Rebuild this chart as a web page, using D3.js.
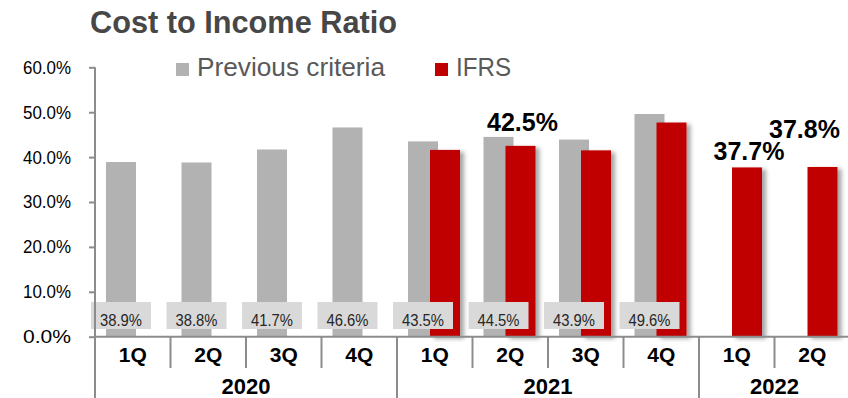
<!DOCTYPE html>
<html>
<head>
<meta charset="utf-8">
<script src="https://cdn.jsdelivr.net/npm/d3@7/dist/d3.min.js"></script>
<style>
  html, body { margin: 0; padding: 0; background: #fff; }
  svg { display: block; font-family: Arial, "Liberation Sans", sans-serif; }
</style>
</head>
<body>
<svg id="chart" width="848" height="398"></svg>
<script>
// Quarterly cost-to-income ratio, previous criteria vs IFRS
const quarters = ["1Q", "2Q", "3Q", "4Q", "1Q", "2Q", "3Q", "4Q", "1Q", "2Q"];
const years = [
  { label: "2020", from: 0, to: 4 },
  { label: "2021", from: 4, to: 8 },
  { label: "2022", from: 8, to: 10 }
];
const previousValues = [38.9, 38.8, 41.7, 46.6, 43.5, 44.5, 43.9, 49.6, null, null];
const ifrsValues = [null, null, null, null, 41.6, 42.5, 41.5, 47.7, 37.7, 37.8];
// IFRS values called out with large labels (index, dx, dy from bar top)
const highlighted = [
  { i: 5, dx: 2, dy: -15 },
  { i: 8, dx: 2, dy: -7 },
  { i: 9, dx: -18, dy: -29 }
];
const yTicks = [0, 10, 20, 30, 40, 50, 60];

const GREY = "#b2b2b2", RED = "#c00000", AXIS = "#8c8c8c";
const svg = d3.select("#chart");

const defs = svg.append("defs");
const shadow = defs.append("filter").attr("id", "shadow")
  .attr("x", "-20%").attr("y", "-10%").attr("width", "160%").attr("height", "130%");
shadow.append("feDropShadow").attr("dx", 4).attr("dy", 2)
  .attr("stdDeviation", 2.2).attr("flood-color", "#000").attr("flood-opacity", 0.35);

const x = d3.scaleBand().domain(d3.range(quarters.length)).range([95, 850]).padding(0);
const y = d3.scaleLinear().domain([0, 60]).range([336.7, 67.3]);
const barW = 30, greyOff = 11, redOff = 33;

// Title
svg.append("text").attr("x", 90).attr("y", 33)
  .attr("font-size", 30.5).attr("font-weight", "bold").attr("fill", "#474747")
  .attr("textLength", 307).attr("lengthAdjust", "spacingAndGlyphs")
  .text("Cost to Income Ratio");

// Legend
const legend = [
  { label: "Previous criteria", color: GREY, x: 176, len: 188 },
  { label: "IFRS", color: RED, x: 435, len: 55 }
];
const lg = svg.append("g").selectAll("g").data(legend).join("g");
lg.append("rect").attr("x", d => d.x).attr("y", 63).attr("width", 13).attr("height", 13)
  .attr("fill", d => d.color);
lg.append("text").attr("x", d => d.x + 21).attr("y", 76)
  .attr("font-size", 25).attr("fill", "#595959")
  .attr("textLength", d => d.len).attr("lengthAdjust", "spacingAndGlyphs")
  .text(d => d.label);

// Y axis
const yAxis = d3.axisLeft(y).tickValues(yTicks).tickSize(6).tickPadding(18)
  .tickFormat(d => d.toFixed(1) + "%");
const ya = svg.append("g").attr("transform", "translate(95,0)").call(yAxis);
ya.select(".domain").remove();
ya.selectAll(".tick line").attr("stroke", AXIS).attr("stroke-width", 2);
ya.selectAll(".tick text").attr("font-size", 18.5).attr("fill", "#000")
  .attr("font-family", "Arial, 'Liberation Sans', sans-serif")
  .attr("textLength", 48).attr("lengthAdjust", "spacingAndGlyphs");

// Previous-criteria bars
svg.append("g").selectAll("rect")
  .data(previousValues.map((v, i) => ({ v, i })).filter(d => d.v != null))
  .join("rect")
  .attr("x", d => x(d.i) + greyOff).attr("width", barW)
  .attr("y", d => y(d.v)).attr("height", d => y(0) - y(d.v))
  .attr("fill", GREY);

// IFRS bars
svg.append("g").selectAll("rect")
  .data(ifrsValues.map((v, i) => ({ v, i })).filter(d => d.v != null))
  .join("rect")
  .attr("x", d => x(d.i) + redOff).attr("width", barW)
  .attr("y", d => y(d.v)).attr("height", d => y(0) - y(d.v))
  .attr("fill", RED).attr("filter", "url(#shadow)");

// Value boxes for previous criteria
const boxes = svg.append("g").selectAll("g")
  .data(previousValues.map((v, i) => ({ v, i })).filter(d => d.v != null))
  .join("g")
  .attr("transform", d => `translate(${x(d.i) + greyOff + barW / 2},0)`);
boxes.append("rect").attr("x", -30).attr("y", 302).attr("width", 60).attr("height", 27)
  .attr("fill", "#d9d9d9");
boxes.append("text").attr("x", -21).attr("y", 325.5)
  .attr("font-size", 16.5).attr("fill", "#262626")
  .attr("textLength", 42).attr("lengthAdjust", "spacingAndGlyphs")
  .text(d => d.v.toFixed(1) + "%");

// Highlighted IFRS labels
svg.append("g").selectAll("text").data(highlighted).join("text")
  .attr("x", d => x(d.i) + redOff + barW / 2 + d.dx)
  .attr("y", d => y(ifrsValues[d.i]) + d.dy)
  .attr("text-anchor", "middle").attr("font-size", 25).attr("font-weight", "bold")
  .attr("fill", "#000")
  .text(d => ifrsValues[d.i].toFixed(1) + "%");

// Category axis: baseline, quarter dividers, year dividers
const axisG = svg.append("g").attr("stroke", AXIS).attr("stroke-width", 2);
axisG.append("line").attr("x1", 95).attr("x2", 850).attr("y1", y(0)).attr("y2", y(0));
axisG.append("line").attr("x1", 95).attr("x2", 95).attr("y1", y(60)).attr("y2", 398);
const yearStarts = new Set(years.map(d => d.from));
axisG.selectAll("line.q").data(d3.range(1, quarters.length)).join("line")
  .attr("class", "q")
  .attr("x1", i => x(i)).attr("x2", i => x(i))
  .attr("y1", y(0)).attr("y2", i => yearStarts.has(i) ? 398 : 368);

svg.append("g").selectAll("text").data(quarters).join("text")
  .attr("x", (d, i) => x(i) + x.bandwidth() / 2).attr("y", 362)
  .attr("text-anchor", "middle").attr("font-size", 21).attr("font-weight", "bold")
  .attr("fill", "#000").text(d => d);

svg.append("g").selectAll("text").data(years).join("text")
  .attr("x", d => (x(d.from) + (d.to < quarters.length ? x(d.to) : 850)) / 2)
  .attr("y", 394)
  .attr("text-anchor", "middle").attr("font-size", 22).attr("font-weight", "bold")
  .attr("fill", "#000").text(d => d.label);
</script>
</body>
</html>
